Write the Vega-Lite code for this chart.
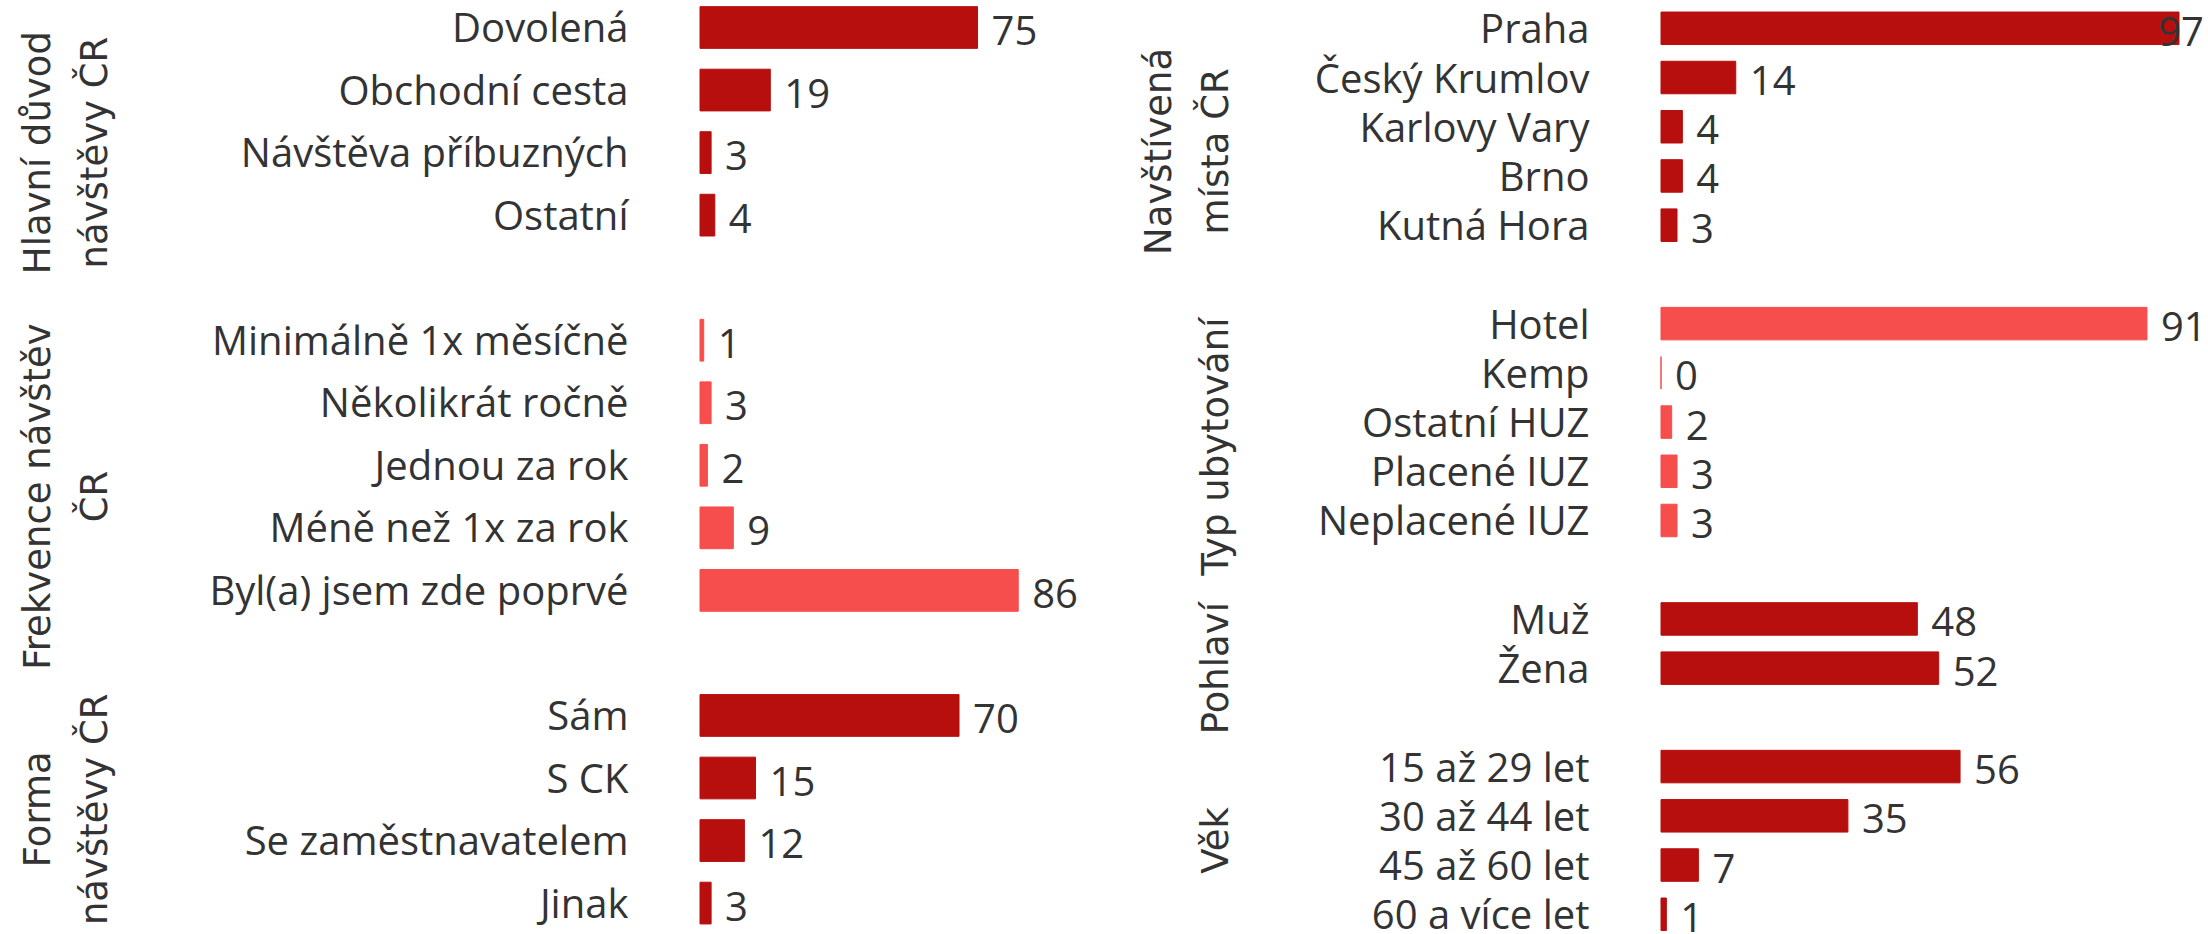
{
  "$schema": "https://vega.github.io/schema/vega-lite/v6.json",
  "padding": 0,
  "background": "white",
  "config": {"view": {"stroke": null, "fill": "white"}},
  "datasets": {
    "left": [
      {"grp": "Hlavní důvod\nnávštěvy ČR", "row": 0, "label": "Dovolená", "value": 75},
      {"grp": "Hlavní důvod\nnávštěvy ČR", "row": 1, "label": "Obchodní cesta", "value": 19},
      {"grp": "Hlavní důvod\nnávštěvy ČR", "row": 2, "label": "Návštěva příbuzných\u00a0", "value": 3},
      {"grp": "Hlavní důvod\nnávštěvy ČR", "row": 3, "label": "Ostatní\u00a0", "value": 4},
      {"grp": "Hlavní důvod\nnávštěvy ČR", "row": 4, "label": " ", "value": null},
      {"grp": "Frekvence návštěv\nČR", "row": 5, "label": "Minimálně 1x měsíčně", "value": 1},
      {"grp": "Frekvence návštěv\nČR", "row": 6, "label": "Několikrát ročně", "value": 3},
      {"grp": "Frekvence návštěv\nČR", "row": 7, "label": "Jednou za rok", "value": 2},
      {"grp": "Frekvence návštěv\nČR", "row": 8, "label": "Méně než 1x za rok", "value": 9},
      {"grp": "Frekvence návštěv\nČR", "row": 9, "label": "Byl(a) jsem zde poprvé\u00a0", "value": 86},
      {"grp": "Frekvence návštěv\nČR", "row": 10, "label": "  ", "value": null},
      {"grp": "Forma\nnávštěvy ČR", "row": 11, "label": "Sám", "value": 70},
      {"grp": "Forma\nnávštěvy ČR", "row": 12, "label": "S CK", "value": 15},
      {"grp": "Forma\nnávštěvy ČR", "row": 13, "label": "Se zaměstnavatelem", "value": 12},
      {"grp": "Forma\nnávštěvy ČR", "row": 14, "label": "Jinak", "value": 3}
    ],
    "right": [
      {"grp": "Navštívená\nmísta ČR", "row": 0, "label": "Praha", "value": 97},
      {"grp": "Navštívená\nmísta ČR", "row": 1, "label": "Český Krumlov", "value": 14},
      {"grp": "Navštívená\nmísta ČR", "row": 2, "label": "Karlovy Vary", "value": 4},
      {"grp": "Navštívená\nmísta ČR", "row": 3, "label": "Brno", "value": 4},
      {"grp": "Navštívená\nmísta ČR", "row": 4, "label": "Kutná Hora", "value": 3},
      {"grp": "Navštívená\nmísta ČR", "row": 5, "label": " ", "value": null},
      {"grp": "\nTyp ubytování", "row": 6, "label": "Hotel", "value": 91},
      {"grp": "\nTyp ubytování", "row": 7, "label": "Kemp", "value": 0},
      {"grp": "\nTyp ubytování", "row": 8, "label": "Ostatní HUZ", "value": 2},
      {"grp": "\nTyp ubytování", "row": 9, "label": "Placené IUZ", "value": 3},
      {"grp": "\nTyp ubytování", "row": 10, "label": "Neplacené IUZ", "value": 3},
      {"grp": "\nTyp ubytování", "row": 11, "label": "  ", "value": null},
      {"grp": "\nPohlaví", "row": 12, "label": "Muž", "value": 48},
      {"grp": "\nPohlaví", "row": 13, "label": "Žena", "value": 52},
      {"grp": "\nPohlaví", "row": 14, "label": "   ", "value": null},
      {"grp": "\nVěk", "row": 15, "label": "15 až 29 let", "value": 56},
      {"grp": "\nVěk", "row": 16, "label": "30 až 44 let", "value": 35},
      {"grp": "\nVěk", "row": 17, "label": "45 až 60 let", "value": 7},
      {"grp": "\nVěk", "row": 18, "label": "60 a více let", "value": 1}
    ]
  },
  "bounds": "full",
  "spacing": 0,
  "hconcat": [
    {
      "bounds": "flush",
      "spacing": 600,
      "hconcat": [
        {
          "width": 100,
          "height": 934,
          "data": {"name": "left"},
          "mark": {"type": "text", "angle": 270, "align": "center", "baseline": "alphabetic", "lineBreak": "\n", "lineHeight": 57, "font": "DejaVu Sans", "fontSize": 37, "color": "#333333"},
          "encoding": {
            "y": {"aggregate": "mean", "field": "row", "type": "quantitative", "scale": {"domain": [-0.4397, 14.4945], "reverse": true, "nice": false, "zero": false}, "axis": null},
            "text": {"field": "grp", "type": "nominal"}
          }
        },
        {
          "width": 400,
          "height": 934,
          "data": {"name": "left"},
          "transform": [{"filter": {"field": "value", "valid": true}}],
          "encoding": {
            "y": {
              "field": "label", "type": "nominal",
              "scale": {
                "domain": ["Dovolená", "Obchodní cesta", "Návštěva příbuzných\u00a0", "Ostatní\u00a0", " ", "Minimálně 1x měsíčně", "Několikrát ročně", "Jednou za rok", "Méně než 1x za rok", "Byl(a) jsem zde poprvé\u00a0", "  ", "Sám", "S CK", "Se zaměstnavatelem", "Jinak"],
                "paddingInner": 0.333, "paddingOuter": 0.1335, "align": 0.398, "round": false
              },
              "axis": {"title": null, "ticks": false, "domain": false, "grid": false, "labelPadding": 72, "labelFont": "Open Sans", "labelFontSize": 40, "labelColor": "#333333", "labelLimit": 1000, "labelOffset": 2.5}
            },
            "x": {"field": "value", "type": "quantitative", "scale": {"domain": [0, 108.1], "nice": false, "zero": true}, "axis": null}
          },
          "layer": [
            {
              "mark": {"type": "bar", "strokeWidth": 1},
              "encoding": {
                "color": {"field": "grp", "type": "nominal", "scale": {"domain": ["Hlavní důvod\nnávštěvy ČR", "Frekvence návštěv\nČR", "Forma\nnávštěvy ČR"], "range": ["#B70E0E", "#F64D4D", "#B70E0E"]}, "legend": null},
                "stroke": {"field": "grp", "type": "nominal", "scale": {"domain": ["Hlavní důvod\nnávštěvy ČR", "Frekvence návštěv\nČR", "Forma\nnávštěvy ČR"], "range": ["#B70E0E", "#F64D4D", "#B70E0E"]}, "legend": null}
              }
            },
            {
              "mark": {"type": "text", "align": "left", "baseline": "middle", "dx": 14, "dy": 5.5, "font": "Open Sans", "fontSize": 40, "color": "#333333"},
              "encoding": {"text": {"field": "value", "type": "quantitative"}}
            }
          ]
        }
      ]
    },
    {
      "bounds": "flush",
      "spacing": 419,
      "hconcat": [
        {
          "width": 142,
          "height": 934,
          "data": {"name": "right"},
          "mark": {"type": "text", "angle": 270, "align": "center", "baseline": "alphabetic", "lineBreak": "\n", "lineHeight": 57, "font": "DejaVu Sans", "fontSize": 37, "color": "#333333"},
          "encoding": {
            "y": {"aggregate": "mean", "field": "row", "type": "quantitative", "scale": {"domain": [-0.575, 18.401], "reverse": true, "nice": false, "zero": false}, "axis": null},
            "text": {"field": "grp", "type": "nominal"}
          }
        },
        {
          "width": 547,
          "height": 934,
          "data": {"name": "right"},
          "transform": [{"filter": {"field": "value", "valid": true}}],
          "encoding": {
            "y": {
              "field": "label", "type": "nominal",
              "scale": {
                "domain": ["Praha", "Český Krumlov", "Karlovy Vary", "Brno", "Kutná Hora", " ", "Hotel", "Kemp", "Ostatní HUZ", "Placené IUZ", "Neplacené IUZ", "  ", "Muž", "Žena", "   ", "15 až 29 let", "30 až 44 let", "45 až 60 let", "60 a více let"],
                "paddingInner": 0.3397, "paddingOuter": 0.1579, "align": 0.775, "round": false
              },
              "axis": {"title": null, "ticks": false, "domain": false, "grid": false, "labelPadding": 72, "labelFont": "Open Sans", "labelFontSize": 40, "labelColor": "#333333", "labelLimit": 1000, "labelOffset": 3}
            },
            "x": {"field": "value", "type": "quantitative", "scale": {"domain": [0, 102.43], "nice": false, "zero": true}, "axis": null}
          },
          "layer": [
            {
              "mark": {"type": "bar", "strokeWidth": 1},
              "encoding": {
                "color": {"field": "grp", "type": "nominal", "scale": {"domain": ["Navštívená\nmísta ČR", "\nTyp ubytování", "\nPohlaví", "\nVěk"], "range": ["#B70E0E", "#F64D4D", "#B70E0E", "#F64D4D"]}, "legend": null},
                "stroke": {"field": "grp", "type": "nominal", "scale": {"domain": ["Navštívená\nmísta ČR", "\nTyp ubytování", "\nPohlaví", "\nVěk"], "range": ["#B70E0E", "#F64D4D", "#B70E0E", "#F64D4D"]}, "legend": null}
              }
            },
            {
              "transform": [{"filter": "datum.value <= 95"}],
              "mark": {"type": "text", "align": "left", "baseline": "middle", "dx": 14, "dy": 5.5, "font": "Open Sans", "fontSize": 40, "color": "#333333"},
              "encoding": {"text": {"field": "value", "type": "quantitative"}}
            },
            {
              "transform": [{"filter": "datum.value > 95"}],
              "mark": {"type": "text", "align": "right", "baseline": "middle", "dx": 25, "dy": 5.5, "font": "Open Sans", "fontSize": 40, "color": "#333333"},
              "encoding": {"text": {"field": "value", "type": "quantitative"}}
            }
          ]
        }
      ]
    }
  ]
}
